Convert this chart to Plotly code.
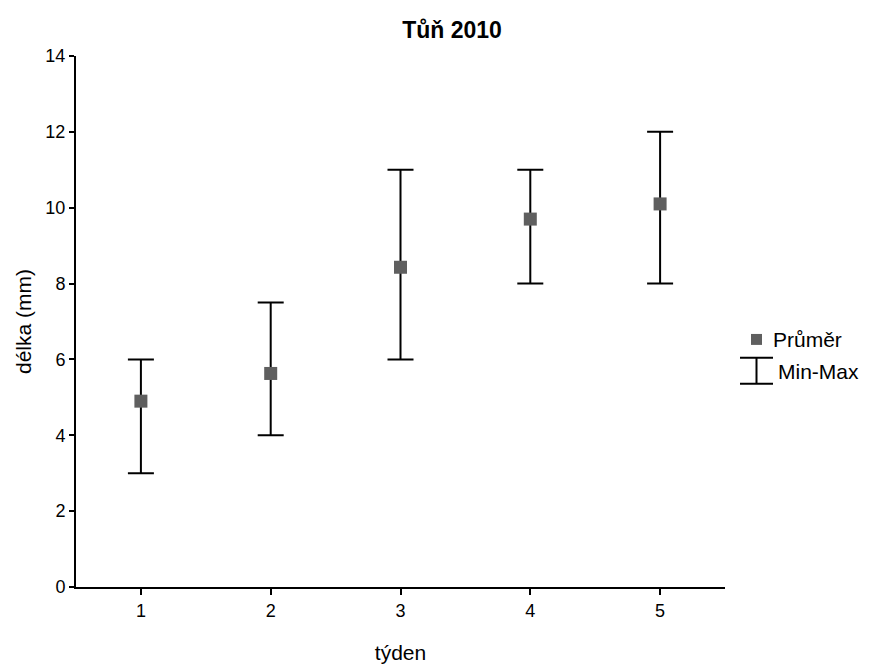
import plotly.graph_objects as go

weeks = [1, 2, 3, 4, 5]
means = [4.9, 5.63, 8.43, 9.7, 10.1]
mins = [3, 4, 6, 8, 8]
maxs = [6, 7.5, 11, 11, 12]

err_plus = [mx - m for mx, m in zip(maxs, means)]
err_minus = [m - mn for mn, m in zip(mins, means)]

FONT = "Liberation Sans, Arial, sans-serif"

# page body offset (default 8px margin) compensation
OFF = 8
PL, PR, PT, PB = 76, 725, 56, 589  # target plot-area edges on screen
W = PR - PL
H = PB - PT


def px(x):
    return (x - PL) / W


def py(y):
    return (PB - y) / H


fig = go.Figure()
fig.add_trace(go.Scatter(
    x=weeks, y=means, mode="markers", name="Průměr",
    marker=dict(symbol="square", size=13, color="#5f5f5f"),
    error_y=dict(type="data", symmetric=False, array=err_plus, arrayminus=err_minus,
                 color="black", thickness=2, width=13),
    showlegend=False,
))

# manual legend (Průměr square, Min-Max I-beam)
fig.add_shape(type="rect", xref="paper", yref="paper",
              x0=px(751), x1=px(762), y0=py(346), y1=py(335),
              fillcolor="#5f5f5f", line=dict(width=0))
for (xa, ya, xb, yb) in [(740, 359, 773, 359), (740, 385, 773, 385), (756.5, 359, 756.5, 385)]:
    fig.add_shape(type="line", xref="paper", yref="paper",
                  x0=px(xa), x1=px(xb), y0=py(ya), y1=py(yb),
                  line=dict(color="black", width=2))
fig.add_annotation(xref="paper", yref="paper", x=px(771), y=py(341),
                   text="Průměr", showarrow=False, xanchor="left", yanchor="middle",
                   font=dict(family=FONT, size=21, color="black"))
fig.add_annotation(xref="paper", yref="paper", x=px(776), y=py(373),
                   text="Min-Max", showarrow=False, xanchor="left", yanchor="middle",
                   font=dict(family=FONT, size=21, color="black"))

fig.update_layout(
    width=886, height=665,
    margin=dict(l=PL - OFF, r=886 - PR + OFF, t=PT - OFF, b=665 - PB + OFF),
    paper_bgcolor="white", plot_bgcolor="white",
    font=dict(family=FONT, size=18, color="black"),
    title=dict(text="<b>Tůň 2010</b>", x=(452 - OFF) / 886, xanchor="center",
               y=1 - (30 - OFF) / 665, yanchor="middle",
               font=dict(family=FONT, size=23, color="black")),
    xaxis=dict(range=[0.5, 5.5], tickvals=weeks, ticktext=[str(w) for w in weeks],
               showgrid=False, zeroline=False, showline=True, linecolor="black", linewidth=2,
               ticks="outside", ticklen=6, tickwidth=1.5, tickcolor="black",
               tickfont=dict(size=18),
               title=dict(text="týden", font=dict(family=FONT, size=21), standoff=26)),
    yaxis=dict(range=[0, 14], tickvals=[0, 2, 4, 6, 8, 10, 12, 14],
               showgrid=False, zeroline=False, showline=True, linecolor="black", linewidth=2,
               ticks="outside", ticklen=5, tickwidth=1.5, tickcolor="black",
               tickfont=dict(size=18),
               title=dict(text="délka (mm)", font=dict(family=FONT, size=21), standoff=8)),
)

fig.write_html("out.html")
